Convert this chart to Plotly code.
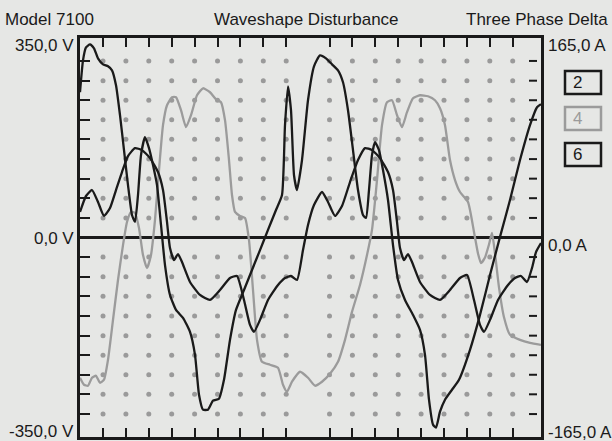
import plotly.graph_objects as go

# ---- data (x: sample index across the screen, y: percent of full scale) ----
gray_x = [0, 4, 8, 12, 16, 20, 24, 28, 33, 38, 43, 47, 51, 55, 59, 63, 67, 71, 75, 79, 83, 87, 92, 96,
          101, 106, 111, 117, 123, 130, 136, 141, 145, 149, 152, 155, 160, 165, 169, 173, 177, 182, 190,
          198, 203, 207, 212, 220, 228, 235, 242, 250, 258, 265, 272, 280, 287, 292, 297, 302, 307, 312,
          317, 322, 327, 333, 340, 348, 355, 360, 365, 370, 375, 380, 388, 394, 398, 401, 405, 409, 412,
          415, 419, 424, 430, 440, 450, 461]
gray_y = [-70.3, -73.8, -74.3, -70.3, -69.3, -72.8, -71.3, -61.3, -41.3, -21.3, -3.8, 7.8, 12.8, 12.3,
          4.8, -8.8, -15.3, -8.8, 8.8, 33.8, 56.3, 66.3, 70.3, 70.3, 63.8, 55.3, 61.3, 71.3, 74.8, 72.8,
          69.3, 67.8, 58.8, 38.8, 21.3, 12.8, 10.8, 9.8, -1.3, -26.3, -51.3, -62.3, -63.8, -65.3, -73.8,
          -77.3, -72.3, -67.3, -70.3, -74.3, -72.3, -68.3, -62.3, -51.3, -37.3, -23.8, -8.8, 3.8, 28.8,
          56.3, 67.8, 68.8, 61.3, 55.3, 62.8, 69.8, 71.3, 70.8, 68.8, 64.8, 56.3, 38.8, 28.8, 22.8, 17.8,
          2.8, -8.0, -12.8, -10.0, -3.5, 2.3, -8.0, -25.0, -40.0, -48.8, -51.3, -52.8, -53.8]

a_x = [0, 3, 6, 10, 14, 18, 23, 28, 32, 36, 40, 44, 48, 52, 55, 58, 61, 65, 69, 73, 77, 81, 85, 90, 96,
       103, 110, 115, 119, 123, 128, 133, 139, 144, 150, 156, 164, 172, 180, 188, 196, 202, 205, 208,
       211, 214, 217, 222, 228, 234, 240, 246, 252, 258, 263, 268, 273, 278, 283, 286, 289, 292, 295,
       299, 303, 308, 313, 318, 325, 333, 340, 345, 349, 353, 356, 360, 365, 372, 379, 390, 400, 410,
       420, 430, 440, 450, 457, 461]
a_y = [72.8, 88.8, 95.3, 96.8, 94.8, 89.8, 86.8, 85.8, 83.8, 76.3, 61.3, 43.8, 26.3, 11.3, 7.8, 21.3,
       41.3, 50.3, 44.8, 36.3, 26.3, 6.3, -13.8, -28.8, -36.3, -40.3, -47.3, -58.8, -78.8, -86.3, -86.3,
       -81.8, -80.8, -71.3, -51.3, -36.3, -26.3, -16.3, -6.3, 3.8, 13.8, 21.3, 56.3, 75.8, 63.8, 31.3,
       23.8, 38.8, 68.8, 85.8, 91.3, 89.8, 86.8, 83.8, 77.8, 63.8, 43.8, 23.8, 11.3, 9.8, 23.8, 41.3,
       47.8, 43.8, 33.8, 18.8, -3.8, -21.3, -31.3, -38.8, -46.3, -58.8, -81.3, -93.8, -95.3, -87.3,
       -81.3, -76.3, -71.3, -56.3, -38.8, -18.8, 0.3, 18.8, 38.8, 56.3, 65.3, 66.8]

b_x = [0, 6, 12, 18, 24, 30, 36, 42, 48, 55, 62, 70, 78, 83, 87, 90, 94, 98, 102, 110, 120, 130, 140,
       150, 157, 164, 170, 174, 180, 188, 198, 205, 211, 217, 223, 228, 234, 242, 248, 255, 262, 270,
       278, 285, 292, 300, 308, 313, 317, 320, 324, 328, 332, 340, 350, 360, 370, 380, 387, 394, 400,
       404, 410, 418, 428, 435, 441, 447, 452, 456, 461]
b_y = [12.8, 20.8, 23.8, 17.8, 10.8, 14.8, 23.8, 32.8, 40.8, 44.8, 43.8, 39.8, 32.8, 23.8, 7.8, -5.3,
       -11.3, -8.3, -12.3, -22.3, -28.8, -31.3, -26.3, -20.3, -19.3, -31.3, -43.8, -47.3, -41.3, -31.3,
       -23.8, -20.3, -19.3, -21.3, -6.3, 6.3, 16.3, 22.8, 17.8, 10.8, 15.8, 27.8, 38.8, 44.8, 43.8,
       39.8, 32.8, 23.8, 7.8, -5.3, -11.3, -8.3, -12.3, -22.3, -28.8, -31.3, -26.3, -20.3, -18.8, -31.3,
       -43.8, -47.3, -41.3, -31.3, -23.8, -20.3, -19.3, -22.3, -15.3, -7.3, -2.8]

# grid / tick positions (sample index, percent of full scale)
tick_x = [23.0, 45.9, 68.8, 91.7, 114.6, 137.5, 160.4, 183.3, 206.2,
          249.5, 272.4, 295.3, 318.2, 341.1, 364.0, 386.9, 409.8, 432.7]
tick_y = [-88.5, -78.6, -68.8, -59.0, -49.2, -39.3, -29.5, -19.7, -9.8,
          9.8, 19.7, 29.5, 39.3, 49.2, 59.0, 68.8, 78.6, 88.5]

left_labels = ["350,0 V", "0,0 V", "-350,0 V"]
right_labels = ["165,0 A", "0,0 A", "-165,0 A"]
titles = ["Model 7100", "Waveshape Disturbance", "Three Phase Delta"]
channels = ["2", "4", "6"]

BG = "#e6e7e5"
INK = "#1a1a1a"
GRAY = "#9b9b9b"
FONT = "Liberation Sans, Arial, sans-serif"

fig = go.Figure()

# dotted grid
dx, dy = [], []
for yv in tick_y:
    for xv in tick_x:
        dx.append(xv)
        dy.append(yv)
fig.add_trace(go.Scatter(x=dx, y=dy, mode="markers",
                         marker=dict(size=5, color="#9a9a9a"), hoverinfo="skip"))

# right-side detached ticks
rx, ry = [], []
for yv in tick_y:
    rx += [449, 457, None]
    ry += [yv, yv, None]
fig.add_trace(go.Scatter(x=rx, y=ry, mode="lines",
                         line=dict(color=INK, width=2), hoverinfo="skip"))

fig.add_trace(go.Scatter(x=gray_x, y=gray_y, mode="lines",
                         line=dict(color=GRAY, width=2.3, shape="spline", smoothing=0.5)))
fig.add_trace(go.Scatter(x=b_x, y=b_y, mode="lines",
                         line=dict(color=INK, width=2.3, shape="spline", smoothing=0.5)))
fig.add_trace(go.Scatter(x=a_x, y=a_y, mode="lines",
                         line=dict(color=INK, width=2.3, shape="spline", smoothing=0.5)))

fig.update_layout(
    width=612, height=441,
    margin=dict(l=80, r=71, t=38, b=4),
    paper_bgcolor=BG, plot_bgcolor=BG,
    showlegend=False,
    font=dict(family=FONT, size=17, color=INK),
)
fig.update_xaxes(range=[0, 461], showgrid=False, zeroline=False,
                 showline=True, linecolor=INK, linewidth=2.5, mirror="ticks",
                 ticks="inside", ticklen=9, tickwidth=2, tickcolor=INK,
                 tickvals=tick_x, showticklabels=False)
fig.update_yaxes(range=[-100, 100], showgrid=False,
                 zeroline=True, zerolinecolor=INK, zerolinewidth=2.5,
                 showline=True, linecolor=INK, linewidth=2.5, mirror=True,
                 ticks="inside", ticklen=10, tickwidth=2, tickcolor=INK,
                 tickvals=tick_y, showticklabels=False)

def px_x(px):
    return (px - 80) / 461.0

def px_y(py):
    return (437 - py) / 399.0

ann = []
ann.append(dict(text=titles[0], x=px_x(3), y=px_y(20), xanchor="left", yanchor="middle"))
ann.append(dict(text=titles[1], x=px_x(306), y=px_y(20), xanchor="center", yanchor="middle"))
ann.append(dict(text=titles[2], x=px_x(610), y=px_y(20), xanchor="right", yanchor="middle"))
for lab, py in zip(left_labels, [45, 238, 431]):
    ann.append(dict(text=lab, x=px_x(76), y=px_y(py), xanchor="right", yanchor="middle"))
for lab, py in zip(right_labels, [45, 245, 432]):
    ann.append(dict(text=lab, x=px_x(546), y=px_y(py), xanchor="left", yanchor="middle"))

box_tops = [71, 107, 143]
for ch, top in zip(channels, box_tops):
    col = GRAY if ch == "4" else INK
    fig.add_shape(type="rect", xref="paper", yref="paper",
                  x0=px_x(565), x1=px_x(601), y0=px_y(top + 23), y1=px_y(top),
                  line=dict(color=col, width=2.5), fillcolor="rgba(0,0,0,0)")
    ann.append(dict(text=ch, x=px_x(571), y=px_y(top + 11.5), xanchor="left", yanchor="middle",
                    font=dict(color=col, size=17, family=FONT)))

for a in ann:
    a.update(xref="paper", yref="paper", showarrow=False)
    fig.add_annotation(**a)

fig.write_html("out.html", config={"displayModeBar": False},
               post_script="document.body.style.margin='0';document.body.style.background='%s';" % BG)
